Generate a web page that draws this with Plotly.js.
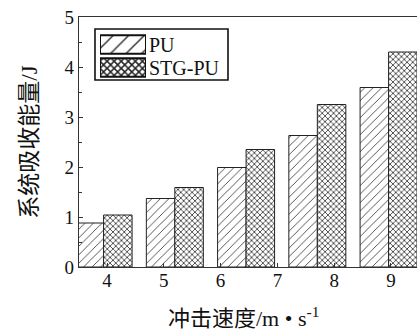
<!DOCTYPE html>
<html>
<head>
<meta charset="utf-8">
<script src="https://cdn.plot.ly/plotly-3.0.1.min.js"></script>
<style>
html,body{margin:0;padding:0;overflow:hidden;background:#fff;width:417px;height:331px;}
#chart{width:450px;height:331px;}
</style>
</head>
<body>
<div id="chart"></div>
<script>
// Data
const groupIndex = [0, 1, 2, 3, 4];            // five bar groups
const speedTicks = [4, 5, 6, 7, 8, 9];          // x tick labels (冲击速度)
const puValues   = [0.88, 1.37, 1.99, 2.63, 3.59];
const stgValues  = [1.04, 1.59, 2.35, 3.25, 4.30];
const seriesNames = ['PU', 'STG-PU'];

const FONT = '"Liberation Serif", "Noto Sans CJK SC", serif';
const puPattern  = {shape: '/', fgcolor: '#444444', bgcolor: '#ffffff', size: 6, solidity: 0.15};
const stgPattern = {shape: 'x', fgcolor: '#444444', bgcolor: '#ffffff', size: 4, solidity: 0.4};

const traces = [
  {
    type: 'bar', name: seriesNames[0], x: groupIndex, y: puValues,
    xaxis: 'x', yaxis: 'y', showlegend: false,
    marker: {color: '#ffffff', line: {color: '#222222', width: 1}, pattern: puPattern},
    hoverinfo: 'skip'
  },
  {
    type: 'bar', name: seriesNames[1], x: groupIndex, y: stgValues,
    xaxis: 'x', yaxis: 'y', showlegend: false,
    marker: {color: '#ffffff', line: {color: '#222222', width: 1}, pattern: stgPattern},
    hoverinfo: 'skip'
  },
  // carrier for the speed tick axis
  {
    type: 'scatter', mode: 'markers', x: speedTicks, y: speedTicks.map(() => null),
    xaxis: 'x2', yaxis: 'y', showlegend: false, hoverinfo: 'skip',
    marker: {opacity: 0}
  },
  // legend keys (large swatches, as in the reference)
  {
    type: 'bar', orientation: 'h', y: [seriesNames[0]], x: [1],
    xaxis: 'x3', yaxis: 'y3', showlegend: false, hoverinfo: 'skip',
    marker: {color: '#ffffff', line: {color: '#111111', width: 2},
             pattern: {shape: '/', fgcolor: '#222222', bgcolor: '#ffffff', size: 11, solidity: 0.12}}
  },
  {
    type: 'bar', orientation: 'h', y: [seriesNames[1]], x: [1],
    xaxis: 'x3', yaxis: 'y3', showlegend: false, hoverinfo: 'skip',
    marker: {color: '#ffffff', line: {color: '#111111', width: 2},
             pattern: {shape: 'x', fgcolor: '#222222', bgcolor: '#ffffff', size: 5, solidity: 0.5}}
  }
];

const layout = {
  width: 450, height: 331,
  margin: {l: 79, r: 0, t: 17, b: 64, pad: 0},
  paper_bgcolor: '#ffffff', plot_bgcolor: '#ffffff',
  font: {family: FONT, color: '#111111', size: 18},
  barmode: 'group', bargap: 0.2, bargroupgap: 0,
  showlegend: false,
  xaxis: {
    range: [-0.345, 4.862], showticklabels: false, ticks: '',
    showgrid: false, zeroline: false,
    showline: true, linecolor: '#333333', linewidth: 1.3, mirror: true,
    fixedrange: true
  },
  xaxis2: {
    overlaying: 'x', side: 'bottom', range: [3.507, 10.039],
    tickmode: 'array', tickvals: speedTicks, ticktext: speedTicks.map(String),
    ticks: 'inside', ticklen: 4, tickcolor: '#333333',
    showgrid: false, zeroline: false, showline: false,
    tickfont: {family: FONT, size: 19, color: '#111111'},
    automargin: false
  },
  yaxis: {
    range: [0, 5], dtick: 1, tick0: 0,
    ticks: 'inside', ticklen: 4, tickcolor: '#333333',
    minor: {dtick: 0.5, ticks: 'inside', ticklen: 3, tickcolor: '#333333', showgrid: false},
    showgrid: false, zeroline: false,
    showline: true, linecolor: '#333333', linewidth: 1.3,
    tickfont: {family: FONT, size: 19, color: '#111111'},
    title: {text: '系统吸收能量/J', font: {family: FONT, size: 23, color: '#111111'}, standoff: 20},
    automargin: false, fixedrange: true
  },
  xaxis3: {
    domain: [0.0566, 0.1806], anchor: 'y3', range: [0, 1], visible: false, fixedrange: true
  },
  yaxis3: {
    domain: [0.752, 0.936], anchor: 'x3', type: 'category', autorange: 'reversed',
    tickmode: 'array', tickvals: seriesNames, ticktext: seriesNames,
    side: 'right', showline: false, ticks: '', showgrid: false, zeroline: false,
    tickfont: {family: FONT, size: 20, color: '#111111'}, ticklabelstandoff: 2,
    fixedrange: true
  },
  shapes: [
    {type: 'rect', xref: 'paper', yref: 'paper', x0: 0.0431, x1: 0.4016, y0: 0.748, y1: 0.952,
     line: {color: '#111111', width: 1.6}, fillcolor: 'rgba(0,0,0,0)', layer: 'above'}
  ],
  annotations: [
    {text: '冲击速度/m • s<sup>-1</sup>', xref: 'paper', yref: 'paper', x: 0.4447, y: -0.2,
     xanchor: 'center', yanchor: 'middle', showarrow: false,
     font: {family: FONT, size: 22, color: '#111111'}}
  ]
};

Plotly.newPlot('chart', traces, layout, {staticPlot: true, displayModeBar: false});
</script>
</body>
</html>
